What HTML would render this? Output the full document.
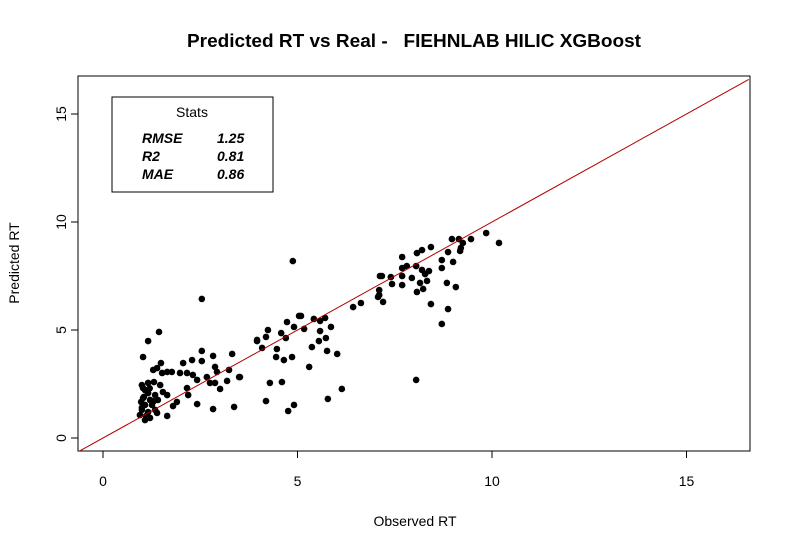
<!DOCTYPE html>
<html><head><meta charset="utf-8"><style>
body{margin:0;background:#fff}
svg{display:block;font-family:"Liberation Sans",Arial,sans-serif}
</style></head><body>
<svg id="chart" width="791" height="550" viewBox="0 0 791 550">
<rect width="791" height="550" fill="#fff"/>
<text x="414" y="47" text-anchor="middle" font-size="18" font-weight="bold" textLength="454" lengthAdjust="spacingAndGlyphs" style="white-space:pre" xml:space="preserve">Predicted RT vs Real -   FIEHNLAB HILIC XGBoost</text>
<rect x="78" y="76" width="672" height="375" fill="none" stroke="#000"/>
<g id="axes"></g>
<g id="marks"></g>
<text x="415" y="526" text-anchor="middle" font-size="14">Observed RT</text>
<text transform="translate(19,263) rotate(-90)" text-anchor="middle" font-size="14">Predicted RT</text>
<g>
<rect x="112" y="97" width="161" height="95" fill="#fff" stroke="#000"/>
<text x="192" y="117" text-anchor="middle" font-size="14">Stats</text>
<g font-size="14" font-weight="bold" font-style="italic">
<text x="142" y="143">RMSE</text><text x="217" y="143">1.25</text>
<text x="142" y="161">R2</text><text x="217" y="161">0.81</text>
<text x="142" y="179">MAE</text><text x="217" y="179">0.86</text>
</g></g>
</svg>
<script>
const xTicks=[0,5,10,15];
const yTicks=[0,5,10,15];
const observed=[7.17,7.40,7.43,7.69,7.69,7.69,7.69,7.81,7.94,8.05,8.07,8.20,8.20,8.28,8.38,8.15,8.23,8.33,8.07,8.43,8.43,8.71,8.71,8.87,9.00,8.84,9.07,8.87,8.71,8.05,8.97,9.15,9.25,9.20,9.18,9.46,9.85,10.18,7.10,7.10,7.20,7.07,
4.88,7.12,6.43,6.63,5.04,5.09,4.73,4.91,5.42,5.58,5.71,5.17,5.58,5.86,4.24,4.19,3.96,4.58,4.70,5.73,5.55,5.37,4.09,4.47,5.76,6.02,4.45,4.65,4.86,5.30,3.52,4.29,4.60,6.14,4.19,4.91,4.76,5.78,
1.44,1.16,1.03,1.49,2.54,2.83,3.32,3.96,2.06,2.29,2.54,2.88,2.93,1.29,1.39,1.52,1.65,1.77,1.98,2.16,2.31,2.42,2.67,2.75,2.88,3.01,3.19,3.24,3.50,1.31,2.16,2.19,1.90,1.80,2.42,2.83,3.37,1.65,1.39,1.21,1.54,1.65,
1.00,1.08,1.16,1.03,1.21,1.08,1.00,1.16,1.34,1.26,0.95,1.08,1.03,1.41,1.47,1.16,0.98,1.34,1.11,1.05,1.20,1.30,1.00,2.54];
const predicted=[7.50,7.45,7.13,8.38,7.87,7.50,7.08,7.96,7.41,7.96,8.56,8.70,7.78,7.59,7.73,7.18,6.90,7.27,6.76,8.84,6.20,8.24,7.87,8.61,8.15,7.18,6.99,5.97,5.28,2.69,9.21,9.21,9.03,8.80,8.66,9.21,9.49,9.03,6.85,6.62,6.30,6.53,
8.19,7.50,6.06,6.25,5.65,5.65,5.37,5.14,5.51,5.42,5.56,5.05,4.95,5.14,5.00,4.68,4.54,4.86,4.63,4.63,4.49,4.21,4.17,4.12,4.03,3.89,3.75,3.61,3.75,3.29,2.82,2.55,2.59,2.27,1.71,1.53,1.25,1.81,
4.91,4.49,3.75,3.47,4.03,3.80,3.89,4.49,3.47,3.61,3.56,3.29,3.06,3.15,3.24,3.01,3.06,3.06,3.01,3.01,2.92,2.69,2.82,2.55,2.55,2.27,2.64,3.15,2.82,2.59,2.31,1.99,1.67,1.48,1.57,1.34,1.44,1.02,1.16,0.93,2.13,1.99,
2.45,2.22,2.08,1.85,1.76,1.53,1.30,1.20,1.99,1.53,1.06,0.83,2.31,1.76,2.45,2.55,1.67,1.30,1.02,1.90,2.30,1.70,1.40,6.44];
const NS='http://www.w3.org/2000/svg';
function sx(v){return 103+v*38.9;}
function sy(v){return 438-v*21.6;}
const axes=document.getElementById('axes');
function mk(tag,attrs,parent){const e=document.createElementNS(NS,tag);for(const k in attrs)e.setAttribute(k,attrs[k]);parent.appendChild(e);return e;}
xTicks.forEach(t=>{
  const l=mk('line',{x1:sx(t),x2:sx(t),y1:451,y2:458,stroke:'#000'},axes);
  
  
  const tx=mk('text',{x:sx(t),y:486,'text-anchor':'middle','font-size':14},axes);
  tx.textContent=t;
  
  
});
yTicks.forEach(t=>{
  const l=mk('line',{x1:71,x2:78,y1:sy(t),y2:sy(t),stroke:'#000'},axes);
  
  
  const tx=mk('text',{'text-anchor':'middle','font-size':14,transform:'translate(66,'+sy(t)+') rotate(-90)'},axes);
  tx.textContent=t;
  
  
});
const marks=document.getElementById('marks');
observed.forEach((v,i)=>{
  const c=mk('circle',{cx:sx(v),cy:sy(predicted[i]),r:3.3,fill:'#000'},marks);
  
  
});
const lo=-0.65,hi=16.6;
const dl=mk('line',{x1:sx(lo),y1:sy(lo),x2:sx(hi),y2:sy(hi),stroke:'#b00000','stroke-width':1},marks);


const cp=mk('clipPath',{id:'cp'},document.getElementById('chart'));
mk('rect',{x:78,y:76,width:672,height:375},cp);
dl.setAttribute('clip-path','url(#cp)');
</script>
</body></html>
